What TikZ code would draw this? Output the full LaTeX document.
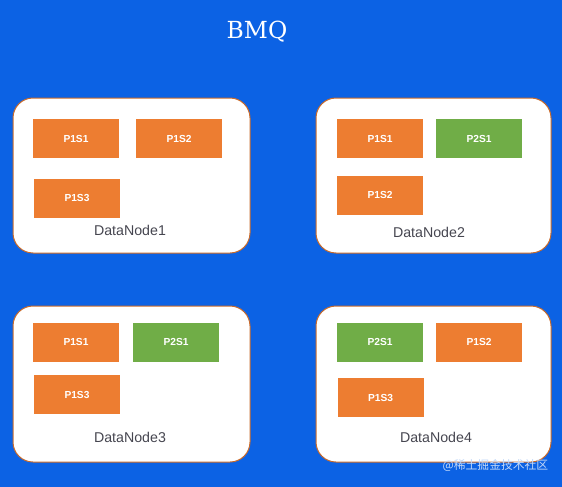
\documentclass[tikz,border=0pt]{standalone}
\usepackage{fontspec}
\setmainfont{DejaVu Serif}
\setsansfont{Liberation Sans}
\newfontfamily\cjk{Noto Sans CJK SC}
\definecolor{bgblue}{RGB}{12,98,228}
\definecolor{shorange}{RGB}{237,125,49}
\definecolor{shgreen}{RGB}{112,173,71}
\definecolor{labgray}{RGB}{70,70,80}
\begin{document}
\begin{tikzpicture}[x=1pt,y=-1pt,
  dnode/.style={draw=shorange!85!black,line width=1pt,fill=white,rounded corners=20pt},
  shard/.style={draw=none,inner sep=0pt,minimum width=86pt,minimum height=39pt,
     font=\sffamily\bfseries\fontsize{10.2}{11}\selectfont,text=white},
  oshard/.style={shard,fill=shorange},
  gshard/.style={shard,fill=shgreen},
  dlabel/.style={font=\sffamily\fontsize{14.2}{15}\selectfont,text=labgray,inner sep=0pt}]
\fill[bgblue] (0,0) rectangle (562,487);
\useasboundingbox (0,0) rectangle (562,487);
\node[text=white,font=\fontsize{23.5}{26}\selectfont,inner sep=0pt,anchor=base] (title) at (257,39) {BMQ};
% DataNode1
\draw[dnode] (13,98) rectangle (250,253);
\node[oshard] (a1) at (76,138.5) {P1S1};
\node[oshard] (a2) at (179,138.5) {P1S2};
\node[oshard] (a3) at (77,198) {P1S3};
\node[dlabel] (l1) at (130,230) {DataNode1};
% DataNode2
\draw[dnode] (316,98) rectangle (551,253);
\node[oshard] (b1) at (380,138.5) {P1S1};
\node[gshard] (b2) at (479,138.5) {P2S1};
\node[oshard] (b3) at (380,195) {P1S2};
\node[dlabel] (l2) at (429,232) {DataNode2};
% DataNode3
\draw[dnode] (13,306) rectangle (250,462);
\node[oshard] (c1) at (76,342) {P1S1};
\node[gshard] (c2) at (176,342) {P2S1};
\node[oshard] (c3) at (77,394.5) {P1S3};
\node[dlabel] (l3) at (130,437) {DataNode3};
% DataNode4
\draw[dnode] (316,306) rectangle (551,462);
\node[gshard] (d1) at (380,342) {P2S1};
\node[oshard] (d2) at (479,342) {P1S2};
\node[oshard] (d3) at (380.5,397.5) {P1S3};
\node[dlabel] (l4) at (436,437) {DataNode4};
\node[text=white!75!bgblue,font=\cjk\fontsize{11.8}{13}\selectfont,inner sep=0pt] (wm) at (495.5,465.5) {@稀土掘金技术社区};
\end{tikzpicture}
\end{document}
